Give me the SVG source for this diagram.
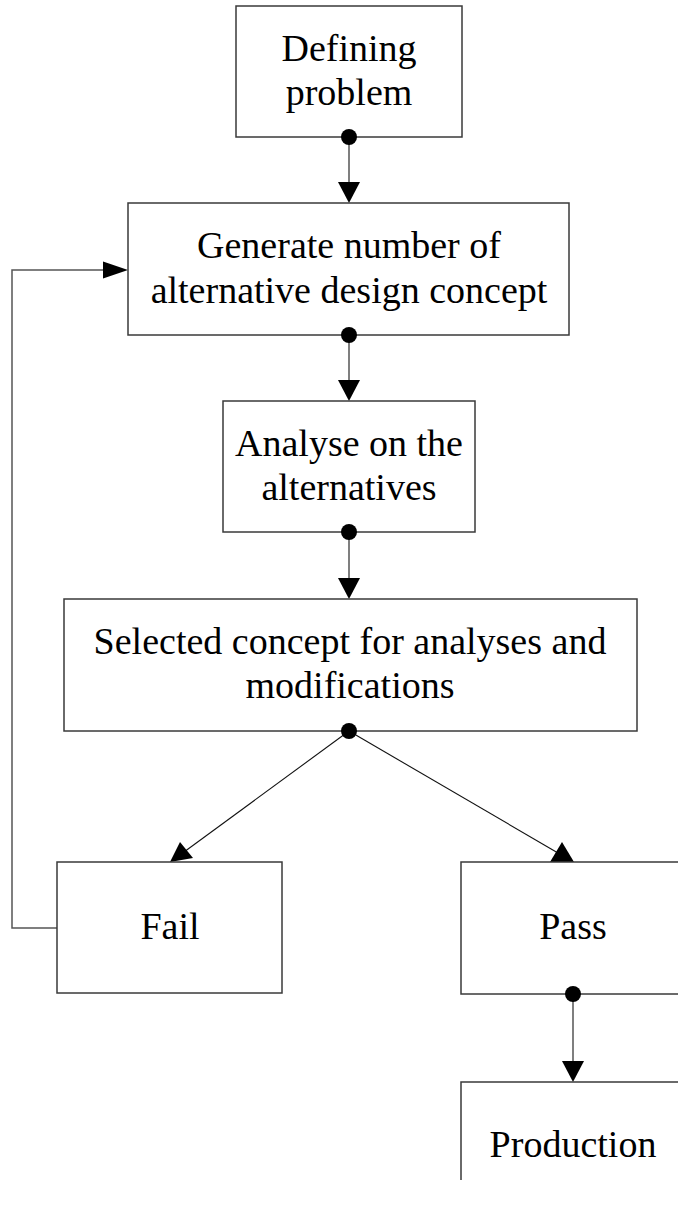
<svg xmlns="http://www.w3.org/2000/svg" width="678" height="1210" viewBox="0 0 678 1210">
<style>
.box{fill:#fff;stroke:#3a3a3a;stroke-width:1.5}
.lbl{font-family:"Liberation Serif","Times New Roman",serif;font-size:38px;fill:#000;text-anchor:middle}
.wire{fill:none;stroke:#555;stroke-width:1.5}
.diag{fill:none;stroke:#111;stroke-width:1.1}
.dot{fill:#000}
.head{fill:#000}
</style>
<rect width="678" height="1210" fill="#fff"/>
<g id="connectors">
<line class="wire" x1="349" y1="137" x2="349" y2="185"/>
<polygon class="head" points="338,182 360,182 349,203"/>
<line class="wire" x1="349" y1="335" x2="349" y2="383"/>
<polygon class="head" points="338,380 360,380 349,401"/>
<line class="wire" x1="349" y1="532" x2="349" y2="580"/>
<polygon class="head" points="338,578 360,578 349,599"/>
<line class="diag" x1="349" y1="731" x2="184" y2="852"/>
<polygon class="head" points="170,862 193,858 180,842"/>
<line class="diag" x1="349" y1="731" x2="558" y2="853"/>
<polygon class="head" points="550,862 574,862 562,842"/>
<polyline class="wire" points="57,928 12,928 12,270 105,270"/>
<polygon class="head" points="103,261.5 103,278.5 128,270"/>
<line class="wire" x1="573" y1="994" x2="573" y2="1064"/>
<polygon class="head" points="562,1061 584,1061 573,1082"/>
</g>
<g id="n1">
<rect class="box" x="236" y="6" width="226" height="131"/>
<text class="lbl" x="349" y="61">Defining</text>
<text class="lbl" x="349" y="105">problem</text>
</g>
<g id="n2">
<rect class="box" x="128" y="203" width="441" height="132"/>
<text class="lbl" x="349" y="258">Generate number of</text>
<text class="lbl" x="349" y="303">alternative design concept</text>
</g>
<g id="n3">
<rect class="box" x="223" y="401" width="252" height="131"/>
<text class="lbl" x="349" y="456">Analyse on the</text>
<text class="lbl" x="349" y="500">alternatives</text>
</g>
<g id="n4">
<rect class="box" x="64" y="599" width="573" height="132"/>
<text class="lbl" x="350" y="654">Selected concept for analyses and</text>
<text class="lbl" x="350" y="698">modifications</text>
</g>
<g id="n5">
<rect class="box" x="57" y="862" width="225" height="131"/>
<text class="lbl" x="170" y="939">Fail</text>
</g>
<g id="n6">
<rect class="box" x="461" y="862" width="240" height="132"/>
<text class="lbl" x="573" y="939">Pass</text>
</g>
<g id="n7">
<path class="box" d="M690,1082 H461 V1180"/>
<text class="lbl" x="573" y="1157">Production</text>
</g>
<g id="dots">
<circle class="dot" cx="349" cy="137" r="8"/>
<circle class="dot" cx="349" cy="335" r="8"/>
<circle class="dot" cx="349" cy="532" r="8"/>
<circle class="dot" cx="349" cy="731" r="8"/>
<circle class="dot" cx="573" cy="994" r="8"/>
</g>
</svg>
